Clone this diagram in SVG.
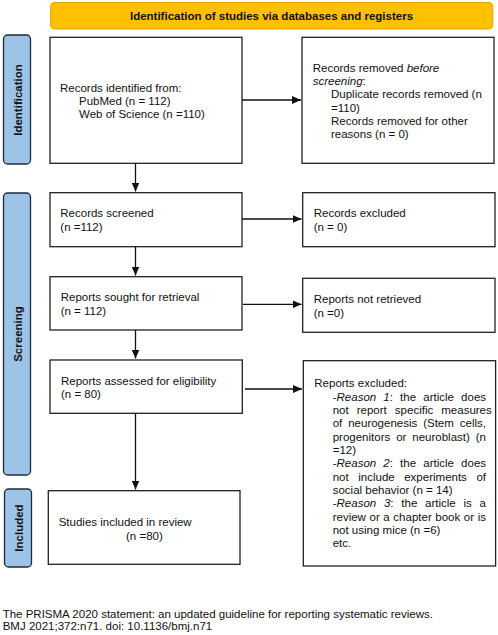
<svg xmlns="http://www.w3.org/2000/svg" width="498" height="635" viewBox="0 0 498 635">
<defs>
<marker id="ah" markerWidth="10" markerHeight="8" refX="9" refY="4" orient="auto" markerUnits="userSpaceOnUse">
<path d="M0,0 L9,4 L0,8 Z" fill="#111"/>
</marker>
<style>
text{font-family:"Liberation Sans",Arial,sans-serif;font-size:11.5px;fill:#111}
.b{font-weight:bold}
.box{fill:#fff;stroke:#222;stroke-width:1.3}
.side{fill:#9DC3E6;stroke:#1E2B3A;stroke-width:1.3}
.hdr{fill:#FFC000;stroke:#E0A800;stroke-width:1.2}
.con{stroke:#111;stroke-width:1.3;fill:none;marker-end:url(#ah)}
.i{font-style:italic}
</style>
</defs>
<rect width="498" height="635" fill="#fff"/>

<g id="header">
<rect class="hdr" x="50.7" y="2.5" width="442" height="26.5" rx="4"/>
<text class="b" x="271.5" y="19.8" text-anchor="middle">Identification of studies via databases and registers</text>
</g>

<g id="side-identification">
<rect class="side" x="3.5" y="35" width="27" height="129" rx="4"/>
<text class="b" transform="translate(22 100) rotate(-90)" text-anchor="middle">Identification</text>
</g>
<g id="side-screening">
<rect class="side" x="3.5" y="193" width="27" height="282" rx="4"/>
<text class="b" transform="translate(22 334) rotate(-90)" text-anchor="middle">Screening</text>
</g>
<g id="side-included">
<rect class="side" x="4.5" y="489" width="27" height="78" rx="4"/>
<text class="b" transform="translate(22.5 528) rotate(-90)" text-anchor="middle">Included</text>
</g>

<g id="records-identified">
<rect class="box" x="50" y="37.3" width="192" height="126"/>
<text x="60" y="91.5">Records identified from:</text>
<text x="79" y="104.8">PubMed (n = 112)</text>
<text x="79" y="118.1">Web of Science (n =110)</text>
</g>

<g id="records-removed">
<rect class="box" x="302" y="37.3" width="192" height="126"/>
<text x="312.7" y="71.7">Records removed <tspan class="i">before</tspan></text>
<text x="312.7" y="85"><tspan class="i">screening</tspan>:</text>
<text x="331" y="98.3">Duplicate records removed (n</text>
<text x="331" y="111.7">=110)</text>
<text x="331" y="125">Records removed for other</text>
<text x="331" y="138.3">reasons (n = 0)</text>
</g>

<g id="records-screened">
<rect class="box" x="50" y="192.7" width="192" height="54"/>
<text x="60.3" y="217.3">Records screened</text>
<text x="60.3" y="231">(n =112)</text>
</g>

<g id="records-excluded">
<rect class="box" x="302.7" y="192.7" width="192.3" height="54"/>
<text x="313.7" y="217.3">Records excluded</text>
<text x="313.7" y="231">(n = 0)</text>
</g>

<g id="reports-sought">
<rect class="box" x="50" y="276.7" width="192" height="53.3"/>
<text x="60.7" y="300.7">Reports sought for retrieval</text>
<text x="60.7" y="315">(n = 112)</text>
</g>

<g id="reports-not-retrieved">
<rect class="box" x="302.7" y="278.3" width="192.3" height="54"/>
<text x="313.7" y="303">Reports not retrieved</text>
<text x="313.7" y="317.3">(n =0)</text>
</g>

<g id="reports-assessed">
<rect class="box" x="50" y="360" width="192.3" height="53.3"/>
<text x="61" y="385">Reports assessed for eligibility</text>
<text x="61" y="398.3">(n = 80)</text>
</g>

<g id="reports-excluded">
<rect class="box" x="303.3" y="360.7" width="192.3" height="205.3"/>
<text x="314.3" y="387.3">Reports excluded:</text>
<text x="332.7" y="400.7" word-spacing="3.97">-<tspan class="i">Reason 1</tspan>: the article does</text>
<text x="332.7" y="414" word-spacing="4.87">not report specific measures</text>
<text x="332.7" y="427.3" word-spacing="2.73">of neurogenesis (Stem cells,</text>
<text x="332.7" y="440.7" word-spacing="2.73">progenitors or neuroblast) (n</text>
<text x="332.7" y="454">=12)</text>
<text x="332.7" y="467.3" word-spacing="3.97">-<tspan class="i">Reason 2</tspan>: the article does</text>
<text x="332.7" y="480.7" word-spacing="6.36">not include experiments of</text>
<text x="332.7" y="494">social behavior (n = 14)</text>
<text x="332.7" y="507.3" word-spacing="4.58">-<tspan class="i">Reason 3</tspan>: the article is a</text>
<text x="332.7" y="520.7" word-spacing="0.41">review or a chapter book or is</text>
<text x="332.7" y="534">not using mice (n =6)</text>
<text x="332.7" y="547.3">etc.</text>
</g>

<g id="studies-included">
<rect class="box" x="48.3" y="490.7" width="191.7" height="73.6"/>
<text x="58.7" y="526.3">Studies included in review</text>
<text x="126" y="539.6">(n =80)</text>
</g>

<g id="connectors">
<line class="con" x1="242" y1="100" x2="301" y2="100"/>
<line class="con" x1="135.5" y1="163.3" x2="135.5" y2="191.5"/>
<line class="con" x1="242" y1="219" x2="301.5" y2="219"/>
<line class="con" x1="135.5" y1="246.7" x2="135.5" y2="275.5"/>
<line class="con" x1="243" y1="304.3" x2="301.5" y2="304.3"/>
<line class="con" x1="135.5" y1="330" x2="135.5" y2="358.5"/>
<line class="con" x1="245" y1="389" x2="302" y2="389"/>
<line class="con" x1="135.5" y1="413.3" x2="135.5" y2="489.5"/>
</g>

<g id="footer">
<text x="2.7" y="618">The PRISMA 2020 statement: an updated guideline for reporting systematic reviews.</text>
<text x="2.7" y="630">BMJ 2021;372:n71. doi: 10.1136/bmj.n71</text>
</g>
</svg>
